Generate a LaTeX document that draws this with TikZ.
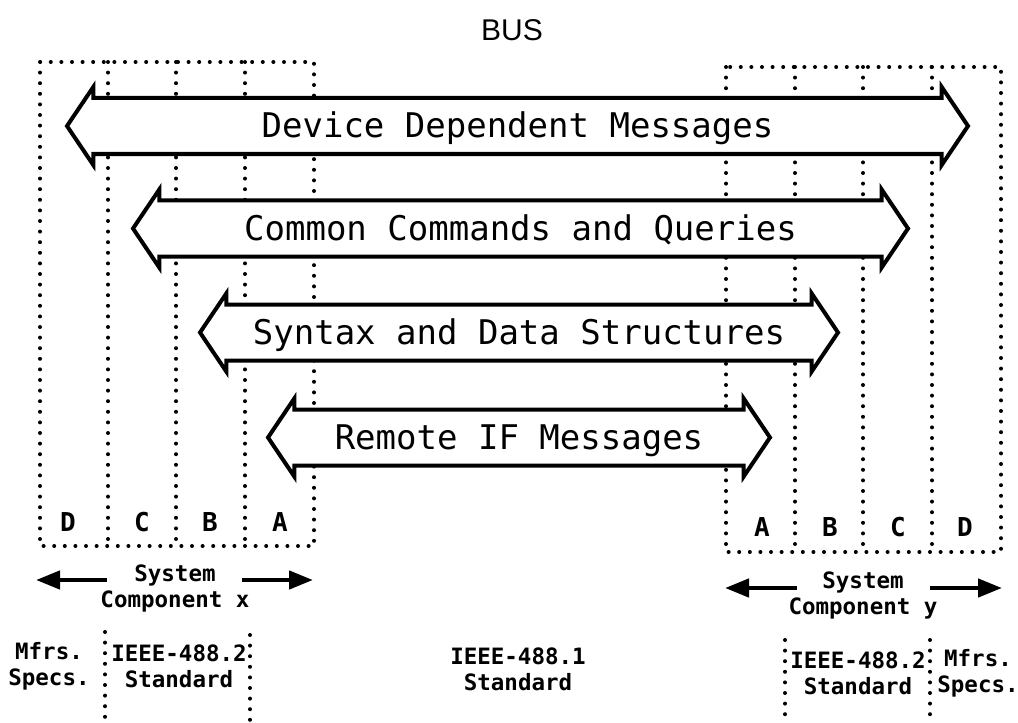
\documentclass[tikz,border=0pt]{standalone}
\usepackage{fontspec}
\usepackage{tikz}
\usetikzlibrary{arrows.meta}
\usetikzlibrary{shapes.arrows}
\newfontfamily\plotfont{DejaVu Sans Mono}
\newfontfamily\busfont{Liberation Sans}
\tikzset{
msg/.style={double arrow, draw, fill=white, line width=4bp, line join=miter,
  double arrow head extend=11bp, double arrow tip angle=112,
  text height=23bp, text depth=0pt, inner ysep=14.5bp, inner xsep=2bp,
  font=\plotfont\fontsize{34bp}{40bp}\selectfont},
dots/.style={line width=4bp, line cap=round, dash pattern=on 0bp off 10.6bp},
layer/.style={inner sep=0pt, font=\plotfont\bfseries\fontsize{26bp}{28bp}\selectfont},
lbl/.style={inner sep=0pt, align=center, font=\plotfont\bfseries\fontsize{22.5bp}{26bp}\selectfont},
sysarrow/.style={line width=4.5bp, -{Triangle[length=24bp,width=18bp]}}
}
\begin{document}
\begin{tikzpicture}[x=1bp,y=-1bp]
\useasboundingbox (0,0) rectangle (1018,723);

\node[inner sep=0pt, font=\busfont\fontsize{30bp}{34bp}\selectfont] (bus) at (512,30) {BUS};

% dotted layer boxes
\draw[dots] (40,62) rectangle (314,546);
\foreach \x in {108,176,245} \draw[dots] (\x,62) -- (\x,546);
\draw[dots] (726,67) rectangle (1001,552);
\foreach \x in {795,863,932} \draw[dots] (\x,67) -- (\x,552);

\node[layer] (xd) at (68,522) {D};
\node[layer] (xc) at (142,522) {C};
\node[layer] (xb) at (210,522) {B};
\node[layer] (xa) at (280,522) {A};
\node[layer] (ya) at (762,527) {A};
\node[layer] (yb) at (830,527) {B};
\node[layer] (yc) at (898,527) {C};
\node[layer] (yd) at (965,527) {D};

% messages between the two components
\node[msg, minimum height=901bp] (ddm) at (517.5,126) {Device Dependent Messages};
\node[msg, minimum height=775bp] (ccq) at (520.5,228.5) {Common Commands and Queries};
\node[msg, minimum height=638bp] (sds) at (519,332.5) {Syntax and Data Structures};
\node[msg, minimum height=502bp] (rif) at (519,437.5) {Remote IF Messages};

% system components
\node[lbl] (sysx) at (175,588) {System\\Component x};
\node[lbl] (sysy) at (863,595) {System\\Component y};
\coordinate (sysxl) at (107,580);
\coordinate (sysxlend) at (36,580);
\coordinate (sysxr) at (242,580);
\coordinate (sysxrend) at (313,580);
\coordinate (sysyl) at (797,588);
\coordinate (sysylend) at (725,588);
\coordinate (sysyr) at (930,588);
\coordinate (sysyrend) at (1002,588);
\draw[sysarrow] (sysxl) -- (sysxlend);
\draw[sysarrow] (sysxr) -- (sysxrend);
\draw[sysarrow] (sysyl) -- (sysylend);
\draw[sysarrow] (sysyr) -- (sysyrend);

% standards
\node[lbl] (mfrsx) at (49,666) {Mfrs.\\Specs.};
\node[lbl] (stdx) at (179,666) {IEEE-488.2\\Standard};
\node[lbl] (stdbus) at (518,669) {IEEE-488.1\\Standard};
\node[lbl] (stdy) at (858,673) {IEEE-488.2\\Standard};
\node[lbl] (mfrsy) at (978,673) {Mfrs.\\Specs.};
\draw[dots] (105,632) -- (105,723);
\draw[dots] (250,635) -- (250,723);
\draw[dots] (785,640) -- (785,723);
\draw[dots] (930,640) -- (930,723);
\end{tikzpicture}
\end{document}
